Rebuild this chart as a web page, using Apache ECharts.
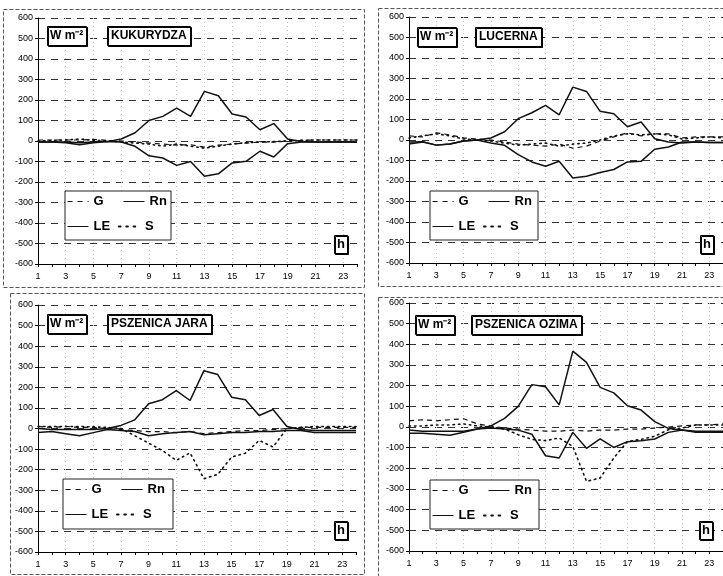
<!DOCTYPE html>
<html>
<head>
<meta charset="utf-8">
<script src="https://cdn.jsdelivr.net/npm/echarts@6/dist/echarts.min.js"></script>
<style>html,body{margin:0;padding:0;background:#fff}#c{width:723px;height:576px}</style>
</head>
<body>
<div id="c"></div>
<script>
// ---- data ----
const hours = ['1','2','3','4','5','6','7','8','9','10','11','12','13','14','15','16','17','18','19','20','21','22','23','24'];
const yTicks = [-600,-500,-400,-300,-200,-100,0,100,200,300,400,500,600];
const cropNames = ['KUKURYDZA','LUCERNA','PSZENICA JARA','PSZENICA OZIMA'];
const unitLabel = 'W m\u207B\u00B2';
const hourLabel = 'h';
const seriesNames = ['G','Rn','LE','S'];

const kukRn = [-5,-5,-5,-8,-5,-3,10,40,100,120,160,120,242,221,132,117,55,85,10,-3,-5,-5,-5,-5];
const kukLE = [-5,-5,-8,-18,-8,-3,-5,-26,-72,-83,-119,-100,-172,-160,-107,-99,-50,-78,-13,-5,-5,-5,-5,-5];
const kukG  = [5,5,5,5,8,3,0,-5,-10,-15,-20,-18,-30,-20,-15,-10,-5,-5,0,3,5,5,5,5];
const kukS  = [0,3,5,10,3,0,-5,-10,-15,-25,-15,-25,-35,-25,-15,-8,-5,-3,0,3,5,5,5,5];

const lucRn = [-10,-8,-25,-20,-5,0,10,40,104,133,169,123,258,237,140,128,65,88,6,-10,-15,-10,-12,-12];
const lucLE = [-20,-10,-25,-20,-5,0,-15,-26,-71,-107,-128,-104,-185,-177,-159,-144,-107,-104,-45,-34,-10,-10,-12,-12];
const lucG  = [20,15,35,25,10,5,0,-10,-20,-25,-30,-20,-40,-30,-5,15,35,20,30,30,10,15,15,15];
const lucS  = [10,20,30,20,5,0,-5,-15,-25,-20,-15,-30,-20,-15,0,20,30,25,30,25,5,10,15,10];

const jarRn = [0,-5,-5,-5,-5,0,15,42,120,140,184,136,281,262,152,140,63,92,10,-5,-10,-10,-10,-10];
const jarLE = [-20,-15,-25,-35,-20,-5,-10,-15,-35,-25,-20,-15,-30,-25,-20,-20,-15,-15,-10,-10,-20,-20,-20,-20];
const jarG  = [10,5,10,5,5,0,-5,-10,-15,-15,-20,-15,-25,-20,-15,-10,-10,-5,0,5,5,5,5,5];
const jarS  = [10,10,10,10,8,5,0,-35,-71,-107,-155,-118,-244,-223,-139,-120,-58,-90,0,5,10,10,10,10];

const ozRn = [-30,-30,-35,-40,-25,-10,5,42,100,205,195,107,367,313,192,165,103,82,26,-7,-15,-25,-25,-25];
const ozLE = [-15,-20,-20,-20,-20,-10,-5,-10,-15,-35,-139,-150,-26,-103,-58,-99,-71,-66,-58,-26,-15,-20,-20,-20];
const ozG  = [30,35,30,35,40,15,5,-5,-10,-15,-20,-20,-15,-20,-15,-15,-10,-10,-5,0,5,10,10,15];
const ozS  = [5,5,10,10,15,5,0,-10,-37,-60,-66,-53,-94,-263,-247,-150,-70,-60,-45,-13,-5,10,10,10];

const panelData = [
  {G:kukG, Rn:kukRn, LE:kukLE, S:kukS},
  {G:lucG, Rn:lucRn, LE:lucLE, S:lucS},
  {G:jarG, Rn:jarRn, LE:jarLE, S:jarS},
  {G:ozG,  Rn:ozRn,  LE:ozLE,  S:ozS}
];

// ---- layout ----
const FONT = '"Liberation Sans", Arial, sans-serif';
const grids = [
  {left:38, top:18, width:319, height:246},
  {left:409, top:17, width:318, height:246},
  {left:38, top:305, width:318, height:247},
  {left:409, top:303, width:315, height:248}
];
const frames = [
  {x:3, y:9, w:361, h:278},
  {x:378, y:8, w:350, h:278},
  {x:10, y:293, w:354, h:281},
  {x:378, y:297, w:350, h:279}
];
const unitBox = [[47,26],[417,27],[47,314],[415,315]];
const nameBox = [[107,26],[475,27],[107,314],[471,315]];
const hBox = [[334,235],[700,235],[334,521],[699,521]];
const legBox = [[65,191,106,49],[430,191,108,49],[63,479,110,50],[430,480,109,49]];
// offsets of each legend entry inside its box: [dx, dy]
const legPos = {G:[2,4], Rn:[58,4], LE:[2,29], S:[53,29]};

const lineStyles = {
  G:  {color:'#111', width:1.2, type:[5,4]},
  Rn: {color:'#111', width:1.5, type:'solid'},
  LE: {color:'#111', width:1.5, type:'solid'},
  S:  {color:'#111', width:1.6, type:[1.5,4], cap:'round'}
};
const legendLines = {
  G:  {color:'#111', width:1.2, type:[5,5]},
  Rn: {color:'#111', width:1, type:'solid'},
  LE: {color:'#111', width:1, type:'solid'},
  S:  {color:'#111', width:1.8, type:[1.8,5.5], cap:'round'}
};
const clone = o => JSON.parse(JSON.stringify(o));

const boxTitle = (text, pos, pad) => ({
  text, left:pos[0], top:pos[1],
  padding: pad,
  borderColor:'#000', borderWidth:1, backgroundColor:'#fff',
  shadowColor:'#000', shadowOffsetX:1, shadowOffsetY:1, shadowBlur:0,
  textStyle:{fontFamily:FONT, fontSize:12, fontWeight:'bold', color:'#000', lineHeight:14}
});

const title = [], xAxis = [], yAxis = [], series = [], legend = [], graphic = [];
for (let i = 0; i < 4; i++) {
  title.push(boxTitle(unitLabel, unitBox[i], [3,3]));
  title.push(boxTitle(cropNames[i], nameBox[i], [3,4]));
  title.push(Object.assign(boxTitle(hourLabel, hBox[i], [2,3]), {
    textStyle:{fontFamily:FONT, fontSize:13, fontWeight:'bold', color:'#000', lineHeight:15}}));
  xAxis.push({
    type:'category', gridIndex:i, data:hours, boundaryGap:false,
    axisLine:{onZero:false, lineStyle:{color:'#000', width:1}},
    axisTick:{show:true, interval:0, length:3, lineStyle:{color:'#000'}},
    axisLabel:{interval:1, fontSize:9, fontFamily:FONT, color:'#000', margin:8},
    splitLine:{show:true, interval:1, lineStyle:{color:'#c4c4c4', type:[1,3], width:1}}
  });
  yAxis.push({
    type:'value', gridIndex:i, min:yTicks[0], max:yTicks[yTicks.length-1], interval:100,
    axisLine:{show:true, lineStyle:{color:'#000', width:1}},
    axisTick:{show:true, length:3, lineStyle:{color:'#000'}},
    axisLabel:{fontSize:9, fontFamily:FONT, color:'#000', margin:5},
    splitLine:{show:true, lineStyle:{color:'#333', type:[7,6], width:1}}
  });
  seriesNames.forEach(n => {
    series.push({
      name:n, type:'line', xAxisIndex:i, yAxisIndex:i, data:panelData[i][n],
      symbol:'none', color:'#111', itemStyle:{color:'#111'},
      lineStyle:clone(lineStyles[n]), z:2,
      silent:true
    });
  });
  const b = legBox[i];
  seriesNames.forEach(n => {
    legend.push({
      data:[n], left:b[0]+legPos[n][0], top:b[1]+legPos[n][1],
      itemWidth:21, itemHeight:14, selectedMode:false, padding:0, z:5,
      textStyle:{fontFamily:FONT, fontSize:13, fontWeight:'bold', color:'#000'},
      lineStyle:clone(legendLines[n]),
      itemStyle:{color:'rgba(0,0,0,0)', borderColor:'rgba(0,0,0,0)', borderWidth:0, opacity:0}
    });
  });
  graphic.push({type:'rect', shape:{x:b[0], y:b[1], width:b[2], height:b[3]},
    style:{fill:'#fff', stroke:'#222', lineWidth:1}, z:3, silent:true});
  const f = frames[i];
  graphic.push({type:'rect', shape:{x:f.x+0.5, y:f.y+0.5, width:f.w, height:f.h},
    style:{fill:null, stroke:'#555', lineWidth:1, lineDash:[4,2]}, silent:true, z:-10});
}

const chart = echarts.init(document.getElementById('c'), null, {renderer:'canvas'});
chart.setOption({
  animation:false,
  backgroundColor:'#fff',
  title, grid:grids, xAxis, yAxis, series, legend, graphic
});
</script>
</body>
</html>
